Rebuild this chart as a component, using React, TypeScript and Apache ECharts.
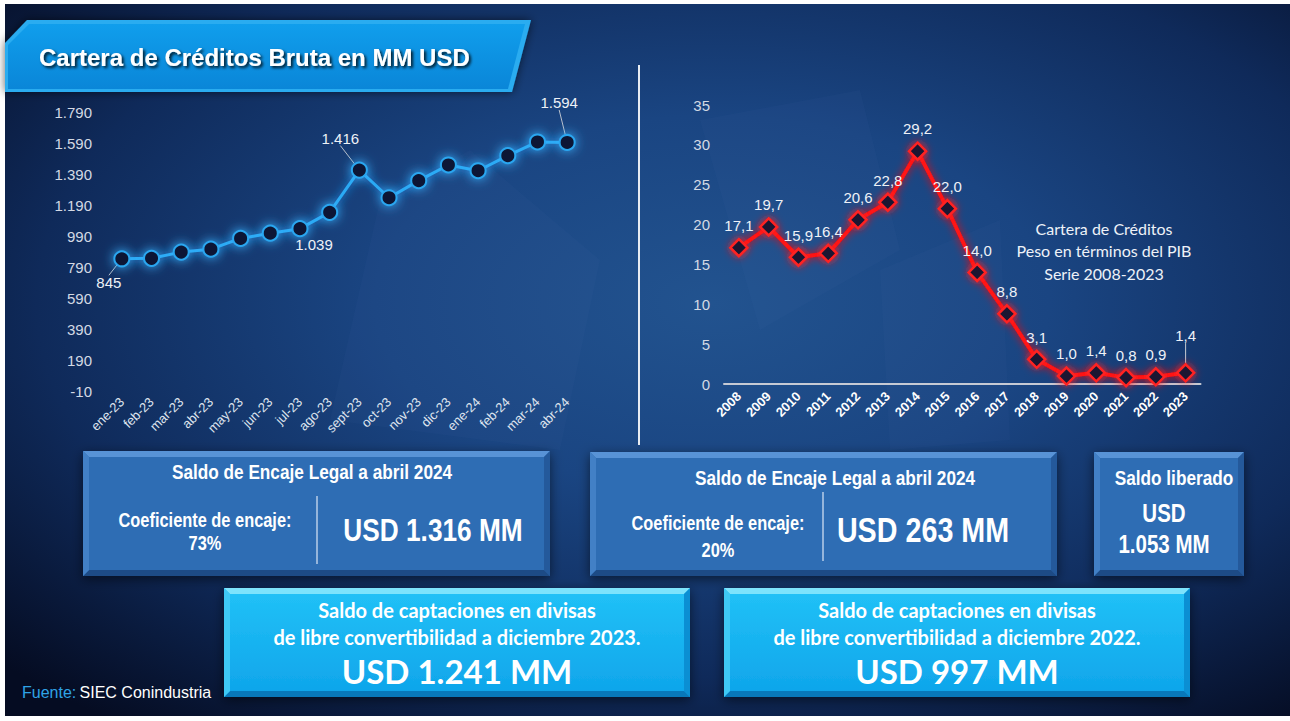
import React, { useEffect, useRef } from "react";
import * as echarts from "echarts";

// ---------- DATA ----------
const months = ["ene-23", "feb-23", "mar-23", "abr-23", "may-23", "jun-23", "jul-23", "ago-23", "sept-23", "oct-23", "nov-23", "dic-23", "ene-24", "feb-24", "mar-24", "abr-24"];
const carteraMM = [845, 848, 888, 907, 976, 1010, 1039, 1144, 1416, 1238, 1348, 1449, 1412, 1509, 1597, 1594];
const carteraLabeled = [0, 6, 8, 15];
const carteraAxisMin = -10;
const carteraAxisMax = 1790;
const carteraAxisStep = 200;

const years = ["2008", "2009", "2010", "2011", "2012", "2013", "2014", "2015", "2016", "2017", "2018", "2019", "2020", "2021", "2022", "2023"];
const pesoPIB = [17.1, 19.7, 15.9, 16.4, 20.6, 22.8, 29.2, 22.0, 14.0, 8.8, 3.1, 1.0, 1.4, 0.8, 0.9, 1.4];
const pibAxisMin = 0;
const pibAxisMax = 35;
const pibAxisStep = 5;

const titleText = "Cartera de Créditos Bruta en MM USD";
const noteLines = ["Cartera de Créditos", "Peso en términos del PIB", "Serie 2008-2023"];
const encajeTitle = "Saldo de Encaje Legal a abril 2024";
const coefLabel = "Coeficiente de encaje:";
const coef1 = "73%";
const saldo1 = "USD 1.316 MM";
const coef2 = "20%";
const saldo2 = "USD 263 MM";
const liberadoLines = ["Saldo liberado", "USD", "1.053 MM"];
const captaciones2023 = ["Saldo de captaciones en divisas", "de libre convertibilidad a diciembre 2023.", "USD 1.241 MM"];
const captaciones2022 = ["Saldo de captaciones en divisas", "de libre convertibilidad a diciembre 2022.", "USD 997 MM"];

// ---------- helpers ----------
const fmtThousands = (v: number) => Math.round(v).toString().replace(/\B(?=(\d{3})+(?!\d))/g, ".");
const fmtComma = (v: number) => v.toFixed(1).replace(".", ",");

const SANS = '"Liberation Sans", Arial, sans-serif';
const NARROW = 0.82;

function bevelBox(x: number, y: number, w: number, h: number, b: number, c: any) {
  return {
    type: "group",
    children: [
      {
        type: "rect",
        shape: { x, y, width: w, height: h },
        style: { fill: c.face, shadowBlur: 12, shadowColor: "rgba(0,0,0,0.55)", shadowOffsetY: 3 },
      },
      { type: "polygon", shape: { points: [[x, y], [x + w, y], [x + w - b, y + b], [x + b, y + b]] }, style: { fill: c.top } },
      { type: "polygon", shape: { points: [[x + w, y], [x + w, y + h], [x + w - b, y + h - b], [x + w - b, y + b]] }, style: { fill: c.right } },
      { type: "polygon", shape: { points: [[x, y + h], [x + w, y + h], [x + w - b, y + h - b], [x + b, y + h - b]] }, style: { fill: c.bottom } },
      { type: "polygon", shape: { points: [[x, y], [x + b, y + b], [x + b, y + h - b], [x, y + h]] }, style: { fill: c.left } },
    ],
  };
}

function txt(x: number, y: number, text: string, size: number, o: any = {}) {
  return {
    type: "text",
    x,
    y,
    scaleX: o.sx ?? 1,
    z: 20,
    style: {
      text,
      fill: o.color ?? "#ffffff",
      fontSize: size,
      fontWeight: o.weight ?? "bold",
      fontFamily: o.family ?? SANS,
      align: o.align ?? "center",
      verticalAlign: "middle",
      textShadowColor: o.shadow ? "rgba(0,0,0,0.85)" : undefined,
      textShadowBlur: o.shadow ? 3 : undefined,
      textShadowOffsetX: o.shadow ? 2 : undefined,
      textShadowOffsetY: o.shadow ? 2 : undefined,
    },
  };
}

const blueBox = {
  face: "#2f6db4",
  top: "#5893d6",
  left: "#4280c6",
  right: "#24599b",
  bottom: "#1d4b86",
};
const cyanBox = {
  face: new echarts.graphic.LinearGradient(0, 0, 0, 1, [
    { offset: 0, color: "#22c2f7" },
    { offset: 1, color: "#0ea4ea" },
  ]),
  top: "#7ee3fc",
  left: "#3fc9f5",
  right: "#0b8fd3",
  bottom: "#0878ba",
};

const leftShift: Record<number, { dx: number; dy: number }> = {
  0: { dx: -13, dy: 3 },
  6: { dx: 14, dy: -5 },
  8: { dx: -19, dy: -11 },
  15: { dx: -8, dy: -19 },
};

export default function App() {
  const ref = useRef<HTMLDivElement>(null);

  useEffect(() => {
    if (!ref.current) return;
    const chart = echarts.init(ref.current, undefined, { renderer: "svg" });

    const leftData = carteraMM.map((v, i) => {
      if (!carteraLabeled.includes(i)) return v;
      const below = i === 0 || i === 6;
      return {
        value: v,
        label: { show: true, position: below ? "bottom" : "top" },
        labelLine: { show: i !== 6 },
      };
    });

    const rightData = pesoPIB.map((v, i) =>
      i === pesoPIB.length - 1 ? { value: v, labelLine: { show: true } } : v
    );

    const bg = {
      type: "rect",
      z: -100,
      shape: { x: 5, y: 4, width: 1285, height: 712 },
      style: {
        fill: new echarts.graphic.RadialGradient(0.55, 0.42, 0.75, [
          { offset: 0, color: "#22538f" },
          { offset: 0.35, color: "#1a4582" },
          { offset: 0.7, color: "#0f2a5a" },
          { offset: 1, color: "#050c22" },
        ]),
      },
    };

    const deco = [
      [[330, 420], [380, 200], [470, 150], [600, 260], [560, 450]],
      [[700, 120], [860, 90], [900, 250], [760, 330]],
      [[880, 270], [1000, 220], [1010, 440], [890, 450]],
    ].map((pts) => ({
      type: "polygon",
      z: -90,
      shape: { points: pts },
      style: { fill: "rgba(130,170,235,0.03)" },
    }));

    const banner = {
      type: "group",
      children: [
        {
          type: "polygon",
          shape: { points: [[27, 20], [531, 20], [512, 92], [5, 92], [5, 43]] },
          style: { fill: "#2aacf0", shadowBlur: 10, shadowColor: "rgba(0,0,0,0.6)" },
        },
        {
          type: "polygon",
          shape: { points: [[29, 24], [525, 24], [508, 89], [8, 89], [8, 45]] },
          style: {
            fill: new echarts.graphic.LinearGradient(0, 0, 0, 1, [
              { offset: 0, color: "#109eec" },
              { offset: 1, color: "#0a86d8" },
            ]),
          },
        },
      ],
    };

    const graphics: any[] = [
      bg,
      ...deco,
      banner,
      txt(39, 57, titleText, 24, { align: "left", shadow: true }),
      { type: "line", shape: { x1: 639, y1: 65, x2: 639, y2: 445 }, style: { stroke: "#e8ecf2", lineWidth: 2 } },
      // right chart note
      ...noteLines.map((t, i) => txt(1104, 228 + i * 22.5, t, 16, { weight: "normal", family: "Lato, 'Open Sans', sans-serif", color: "#eef2f8" })),
      // box 1
      bevelBox(83, 451, 467, 125, 6, blueBox),
      { type: "line", z: 20, shape: { x1: 317, y1: 496, x2: 317, y2: 564 }, style: { stroke: "rgba(230,238,250,0.75)", lineWidth: 1.5 } },
      txt(312, 472, encajeTitle, 21, { sx: NARROW }),
      txt(205, 520, coefLabel, 20, { sx: NARROW }),
      txt(205, 543, coef1, 20, { sx: NARROW }),
      txt(433, 530, saldo1, 32, { sx: NARROW }),
      // box 2
      bevelBox(590, 452, 467, 124, 6, blueBox),
      { type: "line", z: 20, shape: { x1: 823, y1: 492, x2: 823, y2: 561 }, style: { stroke: "rgba(230,238,250,0.75)", lineWidth: 1.5 } },
      txt(835, 478, encajeTitle, 21, { sx: NARROW }),
      txt(718, 523, coefLabel, 20, { sx: NARROW }),
      txt(718, 550, coef2, 20, { sx: NARROW }),
      txt(923, 530, saldo2, 35, { sx: NARROW }),
      // box 3
      bevelBox(1094, 452, 150, 124, 6, blueBox),
      txt(1174, 478, liberadoLines[0], 21, { sx: NARROW }),
      txt(1164, 513, liberadoLines[1], 25, { sx: NARROW }),
      txt(1164, 544, liberadoLines[2], 25, { sx: NARROW }),
      // box 4
      bevelBox(224, 588, 466, 109, 6, cyanBox),
      txt(457, 610, captaciones2023[0], 20, { family: "Lato, sans-serif" }),
      txt(457, 637, captaciones2023[1], 20, { family: "Lato, sans-serif" }),
      txt(457, 671, captaciones2023[2], 33, { family: "Lato, sans-serif" }),
      // box 5
      bevelBox(724, 588, 466, 109, 6, cyanBox),
      txt(957, 610, captaciones2022[0], 20, { family: "Lato, sans-serif" }),
      txt(957, 637, captaciones2022[1], 20, { family: "Lato, sans-serif" }),
      txt(957, 671, captaciones2022[2], 33, { family: "Lato, sans-serif" }),
      // source
      {
        type: "text",
        x: 22,
        y: 692,
        z: 20,
        style: {
          text: "{a|Fuente:} {b|SIEC Conindustria}",
          verticalAlign: "middle",
          rich: {
            a: { fill: "#2fa3e6", fontSize: 16, fontFamily: SANS },
            b: { fill: "#ffffff", fontSize: 16, fontFamily: SANS },
          },
        },
      },
    ];

    chart.setOption({
      animation: false,
      backgroundColor: "#ffffff",
      graphic: { elements: graphics },
      grid: [
        { left: 107, top: 112, width: 475, height: 279.6 },
        { left: 724, top: 105, width: 476.5, height: 279 },
      ],
      xAxis: [
        {
          type: "category",
          gridIndex: 0,
          data: months,
          boundaryGap: true,
          axisLine: { show: false },
          axisTick: { show: false },
          axisLabel: {
            interval: 0,
            rotate: 45,
            margin: 8,
            color: "#dfe4ee",
            fontSize: 13,
            fontFamily: SANS,
          },
        },
        {
          type: "category",
          gridIndex: 1,
          data: years,
          boundaryGap: true,
          axisLine: { show: true, lineStyle: { color: "#c6cad4", width: 2 } },
          axisTick: { show: false },
          axisLabel: {
            interval: 0,
            rotate: 45,
            margin: 10,
            color: "#ffffff",
            fontSize: 13,
            fontWeight: "bold",
            fontFamily: SANS,
          },
        },
      ],
      yAxis: [
        {
          type: "value",
          gridIndex: 0,
          min: carteraAxisMin,
          max: carteraAxisMax,
          interval: carteraAxisStep,
          splitLine: { show: false },
          axisLine: { show: false },
          axisTick: { show: false },
          axisLabel: {
            margin: 15,
            color: "#d3d9e4",
            fontSize: 15,
            fontFamily: SANS,
            formatter: (v: number) => fmtThousands(v),
          },
        },
        {
          type: "value",
          gridIndex: 1,
          min: pibAxisMin,
          max: pibAxisMax,
          interval: pibAxisStep,
          splitLine: { show: false },
          axisLine: { show: false },
          axisTick: { show: false },
          axisLabel: {
            margin: 14,
            color: "#d3d9e4",
            fontSize: 15,
            fontFamily: SANS,
          },
        },
      ],
      series: [
        {
          type: "line",
          xAxisIndex: 0,
          yAxisIndex: 0,
          data: leftData,
          symbol: "circle",
          symbolSize: 15,
          lineStyle: { color: "#2aaaf5", width: 3, shadowColor: "#1e9bff", shadowBlur: 10 },
          itemStyle: { color: "#0a1734", borderColor: "#2aa6f0", borderWidth: 2, shadowColor: "#3ab4ff", shadowBlur: 12 },
          label: {
            show: false,
            color: "#eef1f7",
            fontSize: 15,
            fontFamily: SANS,
            formatter: (p: any) => fmtThousands(p.value),
          },
          labelLine: { show: false, lineStyle: { color: "#b8c0cc", width: 1 } },
          labelLayout: (p: any) => leftShift[p.dataIndex] ?? {},
          z: 5,
        },
        {
          type: "line",
          xAxisIndex: 1,
          yAxisIndex: 1,
          data: rightData,
          symbol: "diamond",
          symbolSize: 17,
          lineStyle: { color: "#ff1212", width: 4, shadowColor: "#ff0000", shadowBlur: 8 },
          itemStyle: { color: "#1b1832", borderColor: "#ff2222", borderWidth: 2.5, shadowColor: "#ff1a1a", shadowBlur: 8 },
          label: {
            show: true,
            position: "top",
            color: "#eef1f7",
            fontSize: 15,
            fontFamily: SANS,
            formatter: (p: any) => fmtComma(p.value),
          },
          labelLine: { show: false, lineStyle: { color: "#c8ccd4", width: 1 } },
          labelLayout: (p: any) => (p.dataIndex === pesoPIB.length - 1 ? { dy: -15 } : {}),
          z: 5,
        },
      ],
    });

    return () => chart.dispose();
  }, []);

  return (
    <div
      ref={ref}
      style={{ position: "fixed", left: 0, top: 0, width: 1290, height: 721 }}
    />
  );
}
